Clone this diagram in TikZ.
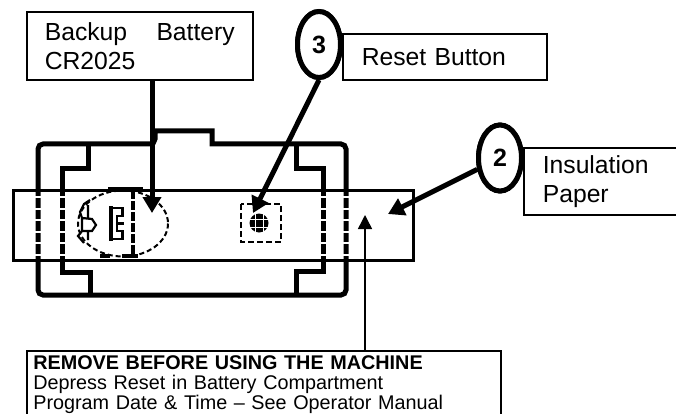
\documentclass[tikz,border=0pt]{standalone}
\usepackage{fontspec}
\setmainfont{Liberation Sans}
\usetikzlibrary{arrows.meta,shapes.geometric}
\tikzset{
  labelbox/.style={draw,line width=1.6pt,fill=white,anchor=north west,inner ysep=0pt,align=left,font=\fontsize{24.7}{29}\selectfont},
  badge/.style={draw,ellipse,line width=5pt,fill=white,minimum width=43pt,minimum height=66pt,inner sep=0pt,font=\fontsize{25}{29}\selectfont\bfseries},
  pointer/.style={line width=5pt,-{Triangle[length=16pt,width=18pt]}},
  machine/.style={line width=5pt},
  gapline/.style={white,line width=7pt,dash pattern=on 2pt off 9.5pt}
}
\begin{document}
\begin{tikzpicture}[x=1pt,y=-1pt]
\path[use as bounding box,clip] (0,0) rectangle (676,414);

\draw[line width=3pt] (13,190) rectangle (413,260);

\draw[machine] (155,131) -- (212,131) -- (212,144) [rounded corners=5pt] -- (346,144) -- (346,295) -- (38,295) -- (38,144) -- (155,144) [sharp corners] -- (155,131) -- cycle;
\draw[machine] (88,144) -- (88,168) -- (62,168) -- (62,272) -- (90,272) -- (90,294);
\draw[machine] (296,144) -- (296,168) -- (323,168) -- (323,271) -- (296,271) -- (296,294);
\foreach \gapx in {38,62,323,346}
  \draw[gapline] (\gapx,196) -- (\gapx,260);
\draw[line width=3pt] (13,260) -- (413,260);

\draw[line width=2pt,dash pattern=on 5pt off 3pt] (123,223.5) ellipse [x radius=45,y radius=33];
\draw[line width=4.5pt,dash pattern=on 9pt off 2pt] (133,190) -- (133,256);
\draw[line width=5pt] (108,189) -- (143,189);
\draw[line width=3.5pt] (100,256) -- (110,256) (122,256) -- (138,256);
\draw[line width=4pt] (111,206) -- (111,241);
\draw[line width=2.6pt] (109,208) -- (122.5,208) -- (122.5,216) -- (117,216) -- (117,231) -- (122.5,231) -- (122.5,239) -- (109,239) (117,223.5) -- (123.5,223.5);
\draw[line width=2.2pt] (90,200) -- (84,204) -- (80,212) -- (82,218) -- (92,219) -- (96,225) -- (92,231) -- (82,231) -- (78,236) -- (84,243) (82,218) -- (82,231) (88,205) -- (88,218) (88,231) -- (88,240);

\draw[line width=2.8pt,dash pattern=on 6pt off 3pt] (241,204) rectangle (281,242);
\fill (259,223) circle (9.5);
\draw[white,line width=1pt] (255,213) -- (255,233) (263,213) -- (263,233) (249,219) -- (269,219) (249,227) -- (269,227);

\node[labelbox,inner xsep=18pt,text width=190pt,minimum height=68pt] (backup) at (26,11) {Backup\hfill Battery\hspace*{3pt}\\CR2025};
\node[labelbox,inner xsep=19pt,text width=166pt,minimum height=46pt] (resetlabel) at (342,33) {Reset Button};
\node[labelbox,inner xsep=19pt,text width=142pt,minimum height=67pt] (paperlabel) at (523,147) {Insulation\\Paper};
\node[labelbox,inner xsep=6.5pt,text width=461pt,minimum height=67pt,font=\fontsize{19.8}{20}\selectfont] (warning) at (26,350) {\textbf{REMOVE BEFORE USING THE MACHINE}\\Depress Reset in Battery Compartment\\Program Date \& Time -- See Operator Manual};

\node[badge] (badgereset) at (319,44.5) {};
\node[badge] (badgepaper) at (500,158) {};

\coordinate (batterytip) at (152,213);
\coordinate (resettip) at (253,213);
\coordinate (papertip) at (388,214);
\coordinate (warningtip) at (365,215);

\draw[pointer] (backup.south -| batterytip) -- (batterytip);
\draw[pointer] (badgereset.south) -- (resettip);
\draw[pointer] (badgepaper) -- (papertip);
\draw[line width=1.5pt,-{Triangle[length=14pt,width=14pt]}] (warning.north -| warningtip) -- (warningtip);
\node[badge] at (badgereset) {3};
\node[badge] at (badgepaper) {2};
\end{tikzpicture}
\end{document}
